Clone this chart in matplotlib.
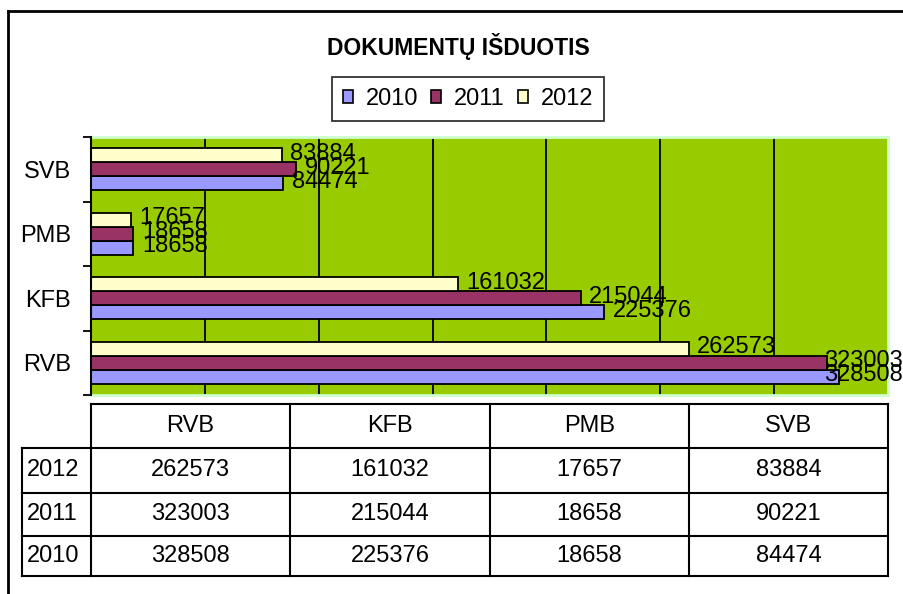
import matplotlib
matplotlib.use("Agg")
import matplotlib.pyplot as plt
from matplotlib.lines import Line2D
from matplotlib.patches import Patch

plt.rcParams['font.family'] = ['Liberation Sans', 'DejaVu Sans']

# ---- data ----
title = "DOKUMENTŲ IŠDUOTIS"
categories = ["RVB", "KFB", "PMB", "SVB"]
years = ["2010", "2011", "2012"]
v2010 = [328508, 225376, 18658, 84474]
v2011 = [323003, 215044, 18658, 90221]
v2012 = [262573, 161032, 17657, 83884]
series = {"2010": v2010, "2011": v2011, "2012": v2012}
colors = {"2010": "#9999FF", "2011": "#993366", "2012": "#FFFFCC"}
table_rows = ["2012", "2011", "2010"]

W, H = 904, 594
fig = plt.figure(figsize=(W / 100, H / 100), dpi=100)

def fx(x):
    return x / W

def fy(y):
    return 1 - y / H

# plot area
L, R, T, B = 91, 888, 137, 395
ax = fig.add_axes([fx(L), fy(B), fx(R) - fx(L), fy(T) - fy(B)])
ax.set_facecolor("#99CC00")

h = 0.217
offsets = {"2010": -h, "2011": 0.0, "2012": h}
ypos = list(range(len(categories)))
labels = []
for yr in years:
    vals = series[yr]
    ys = [y + offsets[yr] for y in ypos]
    bars = ax.barh(ys, vals, height=h, color=colors[yr], edgecolor="black",
                   linewidth=1.3, zorder=3)
    for rect, v in zip(bars, vals):
        t = ax.annotate(str(v), (rect.get_width(), rect.get_y() + rect.get_height() / 2),
                        xytext=(6.0, 1.0), textcoords="offset points", ha="left",
                        va="center", fontsize=17, color="black", zorder=5,
                        annotation_clip=False)
        labels.append(t)

ax.set_xlim(0, 350000)
ax.set_ylim(-0.5, len(categories) - 0.5)
ax.set_xticks([50000, 100000, 150000, 200000, 250000, 300000])
ax.grid(axis="x", color="black", linewidth=1.3, zorder=1)
ax.set_axisbelow(True)
ax.tick_params(axis="x", length=0, labelbottom=False)

ax.set_yticks([-0.5, 0.5, 1.5, 2.5, 3.5])
ax.set_yticklabels([])
ax.tick_params(axis="y", which="major", length=5.8, width=1.3, direction="out", color="black")
ax.set_yticks(ypos, minor=True)
ax.set_yticklabels(categories, minor=True, fontsize=17)
ax.tick_params(axis="y", which="minor", length=0, pad=14.4)

for s in ["top", "right", "bottom"]:
    ax.spines[s].set_color("#CCFFCC")
    ax.spines[s].set_linewidth(2)
ax.spines["left"].set_color("black")
ax.spines["left"].set_linewidth(1.5)
ax.spines["left"].set_zorder(6)

# title
fig.text(fx(458), fy(47), title, ha="center", va="center", fontsize=16.5,
         fontweight="bold")

# legend
handles = [Patch(facecolor=colors[y], edgecolor="black", linewidth=1.2) for y in years]
leg = fig.legend(handles, years, loc="center", bbox_to_anchor=(fx(468), fy(99)),
                 ncol=3, fontsize=17, frameon=True, fancybox=False, shadow=False,
                 handlelength=0.42, handleheight=0.42, handletextpad=0.55,
                 columnspacing=0.55, borderpad=0.45, borderaxespad=0)
leg.get_frame().set_edgecolor("black")
leg.get_frame().set_linewidth(1.3)

# outer chart border (extends beyond the image)
lw_b = 2.0
fig.add_artist(Line2D([fx(8), fx(8)], [fy(11), fy(600)], color="black", lw=lw_b))
fig.add_artist(Line2D([fx(8), fx(910)], [fy(11), fy(11)], color="black", lw=lw_b))

# data table
cols_x = [91, 290, 490, 689, 888]
row_y = [404, 448, 493, 536, 576]
lab_x = 22
lw_t = 1.5

def hline(x0, x1, y):
    fig.add_artist(Line2D([fx(x0), fx(x1)], [fy(y), fy(y)], color="black", lw=lw_t))

def vline(x, y0, y1):
    fig.add_artist(Line2D([fx(x), fx(x)], [fy(y0), fy(y1)], color="black", lw=lw_t))

hline(cols_x[0], cols_x[-1], row_y[0])
for y in row_y[1:]:
    hline(lab_x, cols_x[-1], y)
for x in cols_x:
    vline(x, row_y[0], row_y[-1])
vline(lab_x, row_y[1], row_y[-1])

for j, cat in enumerate(categories):
    cx = (cols_x[j] + cols_x[j + 1]) / 2
    fig.text(fx(cx), fy((row_y[0] + row_y[1]) / 2), cat, ha="center", va="center",
             fontsize=17)
for i, yr in enumerate(table_rows):
    cy = (row_y[i + 1] + row_y[i + 2]) / 2
    fig.text(fx(lab_x + 5), fy(cy), yr, ha="left", va="center", fontsize=17)
    for j in range(len(categories)):
        cx = (cols_x[j] + cols_x[j + 1]) / 2
        fig.text(fx(cx), fy(cy), str(series[yr][j]), ha="center", va="center",
                 fontsize=17)

# keep data labels inside the chart (shift left like the original does)
fig.canvas.draw()
renderer = fig.canvas.get_renderer()
for t in labels:
    bb = t.get_window_extent(renderer)
    if bb.x1 > W - 1:
        shift_pt = (bb.x1 - (W - 1)) * 72 / 100
        x0, y0 = t.xyann
        t.xyann = (x0 - shift_pt, y0)

fig.savefig("out.png", dpi=100)
